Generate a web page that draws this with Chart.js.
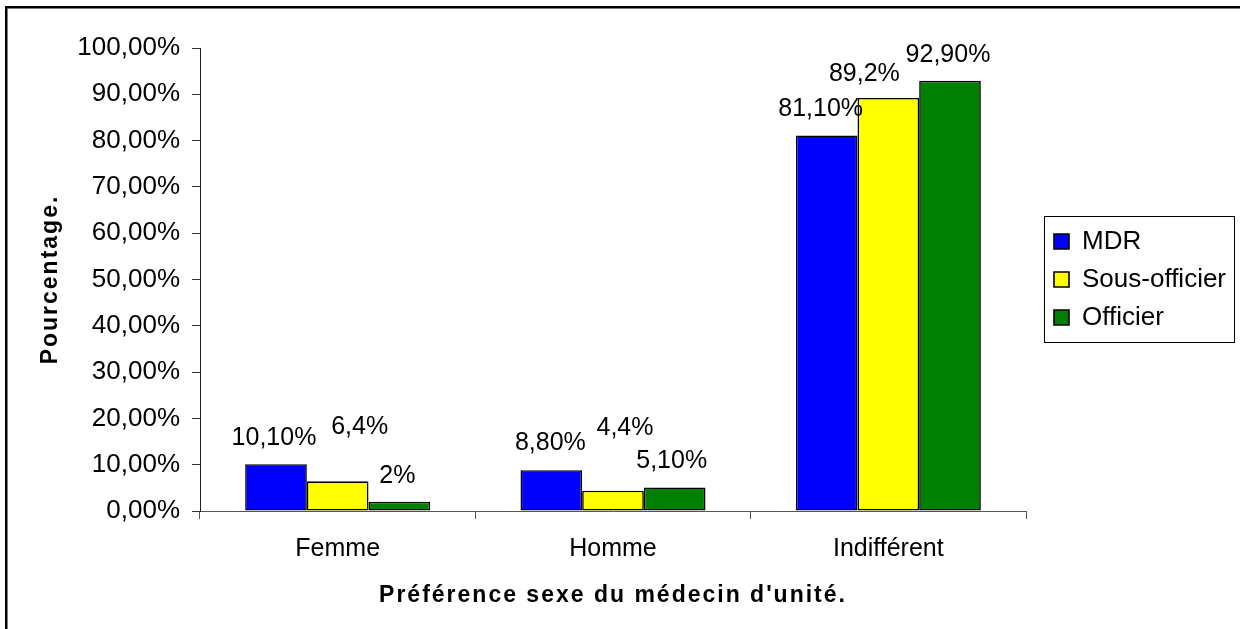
<!DOCTYPE html>
<html>
<head>
<meta charset="utf-8">
<script src="https://cdn.jsdelivr.net/npm/chart.js@4/dist/chart.umd.min.js"></script>
<style>
html,body{margin:0;padding:0;background:#fff;overflow:hidden}
canvas{display:block}
</style>
</head>
<body>
<canvas id="c" width="1240" height="629"></canvas>
<script>
// ---- data ----
const categories = ['Femme', 'Homme', 'Indifférent'];
const seriesNames = ['MDR', 'Sous-officier', 'Officier'];
const mdrValues = [10.1, 8.8, 81.1];
const sousOfficierValues = [6.4, 4.4, 89.2];
const officierValues = [2, 5.1, 92.9];
const mdrLabels = ['10,10%', '8,80%', '81,10%'];
const sousOfficierLabels = ['6,4%', '4,4%', '89,2%'];
const officierLabels = ['2%', '5,10%', '92,90%'];
const yTickLabels = ['0,00%', '10,00%', '20,00%', '30,00%', '40,00%', '50,00%',
                     '60,00%', '70,00%', '80,00%', '90,00%', '100,00%'];
const xTitle = "Préférence sexe du médecin d'unité.";
const yTitle = 'Pourcentage.';

const FONT = '"Liberation Sans", Arial, Helvetica, sans-serif';

// letter-spaced axis titles (as in the reference rendering)
if (Chart.Scale && Chart.Scale.prototype.drawTitle) {
  const origDrawTitle = Chart.Scale.prototype.drawTitle;
  Chart.Scale.prototype.drawTitle = function () {
    const ctx = this.ctx;
    const prev = ctx.letterSpacing;
    try { ctx.letterSpacing = '2px'; } catch (e) {}
    origDrawTitle.call(this);
    try { ctx.letterSpacing = prev || '0px'; } catch (e) {}
  };
}

const framePlugin = {
  id: 'frame',
  beforeDraw(chart) {
    const ctx = chart.ctx;
    ctx.save();
    ctx.fillStyle = '#fff';
    ctx.fillRect(0, 0, chart.width, chart.height);
    ctx.fillStyle = '#000';
    ctx.fillRect(5, 6, chart.width - 5, 2.5);
    ctx.fillRect(5, 6, 2.5, chart.height - 6);
    ctx.restore();
  }
};

const legendShiftPlugin = {
  id: 'legendShift',
  afterLayout(chart, args, opts) {
    const lg = chart.legend;
    if (!lg) return;
    lg.left += opts.shift;
    lg.right += opts.shift;
    // centre the legend on the plot area vertically
    lg.top = chart.chartArea.top;
    lg.bottom = chart.chartArea.bottom;
    lg.height = lg.bottom - lg.top;
  },
  afterDraw(chart) {
    const lg = chart.legend;
    if (!lg || !lg.legendHitBoxes || !lg.legendHitBoxes.length) return;
    const hb = lg.legendHitBoxes;
    const left = Math.min(...hb.map(h => h.left)) - 10;
    const right = Math.max(...hb.map(h => h.left + h.width)) + 8;
    const top = hb[0].top - 13;
    const last = hb[hb.length - 1];
    const bottom = last.top + last.height + 11;
    const ctx = chart.ctx;
    ctx.save();
    ctx.strokeStyle = '#000';
    ctx.lineWidth = 1;
    ctx.strokeRect(Math.round(left) + 0.5, Math.round(top) + 0.5,
                   Math.round(right - left), Math.round(bottom - top));
    ctx.restore();
  }
};

const valueLabelPlugin = {
  id: 'valueLabels',
  afterDatasetsDraw(chart, args, opts) {
    const ctx = chart.ctx;
    ctx.save();
    ctx.font = '25px ' + FONT;
    ctx.fillStyle = '#000';
    ctx.textAlign = 'center';
    ctx.textBaseline = 'middle';
    chart.data.datasets.forEach((ds, di) => {
      const meta = chart.getDatasetMeta(di);
      meta.data.forEach((bar, i) => {
        const off = opts.offsets[di][i];
        ctx.fillText(ds.valueLabels[i], bar.x + off[0], bar.y + off[1]);
      });
    });
    ctx.restore();
  }
};

const datasets = [
  { label: seriesNames[0], data: mdrValues, valueLabels: mdrLabels, backgroundColor: '#0000FF' },
  { label: seriesNames[1], data: sousOfficierValues, valueLabels: sousOfficierLabels, backgroundColor: '#FFFF00' },
  { label: seriesNames[2], data: officierValues, valueLabels: officierLabels, backgroundColor: '#008000' }
].map(d => Object.assign(d, {
  borderColor: '#000',
  borderWidth: 1.6,
  borderSkipped: false,
  categoryPercentage: 0.672,
  barPercentage: 1.0
}));

const chart = new Chart(document.getElementById('c'), {
  type: 'bar',
  data: { labels: categories, datasets },
  options: {
    responsive: false,
    animation: false,
    devicePixelRatio: 1,
    events: [],
    layout: { padding: { left: 0, top: 48, right: 38, bottom: 0 } },
    plugins: {
      tooltip: { enabled: false },
      title: { display: false },
      legend: {
        display: true,
        position: 'right',
        align: 'center',
        labels: {
          color: '#000',
          font: { family: FONT, size: 26 },
          boxWidth: 15,
          boxHeight: 15,
          padding: 12
        }
      },
      legendShift: { shift: 16 },
      valueLabels: {
        offsets: [
          [[-2, -26], [-1, -27], [-6, -26.5]],
          [[22, -54], [12, -63], [-24, -24]],
          [[-2, -26], [-3, -26], [-2, -25.5]]
        ]
      }
    },
    scales: {
      x: {
        type: 'category',
        offset: true,
        grid: { offset: true, drawOnChartArea: false, drawTicks: true, tickLength: 8, color: '#555', lineWidth: 1 },
        border: { display: true, color: '#555', width: 1 },
        ticks: { color: '#000', font: { family: FONT, size: 25 }, padding: 15, maxRotation: 0, autoSkip: false },
        title: {
          display: true,
          text: xTitle,
          color: '#000',
          font: { family: FONT, size: 23, weight: 'bold' },
          padding: { top: 0, bottom: 20 }
        },
        afterFit(s) { s.height = 118; }
      },
      y: {
        min: 0,
        max: 100,
        grid: { drawOnChartArea: false, drawTicks: true, tickLength: 8, color: '#333', lineWidth: 1 },
        border: { display: true, color: '#222', width: 1 },
        ticks: {
          stepSize: 10,
          color: '#000',
          font: { family: FONT, size: 26 },
          padding: 12,
          autoSkip: false,
          callback: (v, i) => yTickLabels[i]
        },
        title: {
          display: true,
          text: yTitle,
          color: '#000',
          font: { family: FONT, size: 23, weight: 'bold' },
          padding: { top: 37, bottom: 0 }
        },
        afterFit(s) { s.width = 200; }
      }
    }
  },
  plugins: [framePlugin, legendShiftPlugin, valueLabelPlugin]
});

// fine-tune right padding so the plot area ends where the reference's does
const dr = chart.chartArea.right - 1026;
if (Math.abs(dr) > 0.5) {
  chart.options.layout.padding.right += dr;
  chart.update('none');
}
</script>
</body>
</html>
